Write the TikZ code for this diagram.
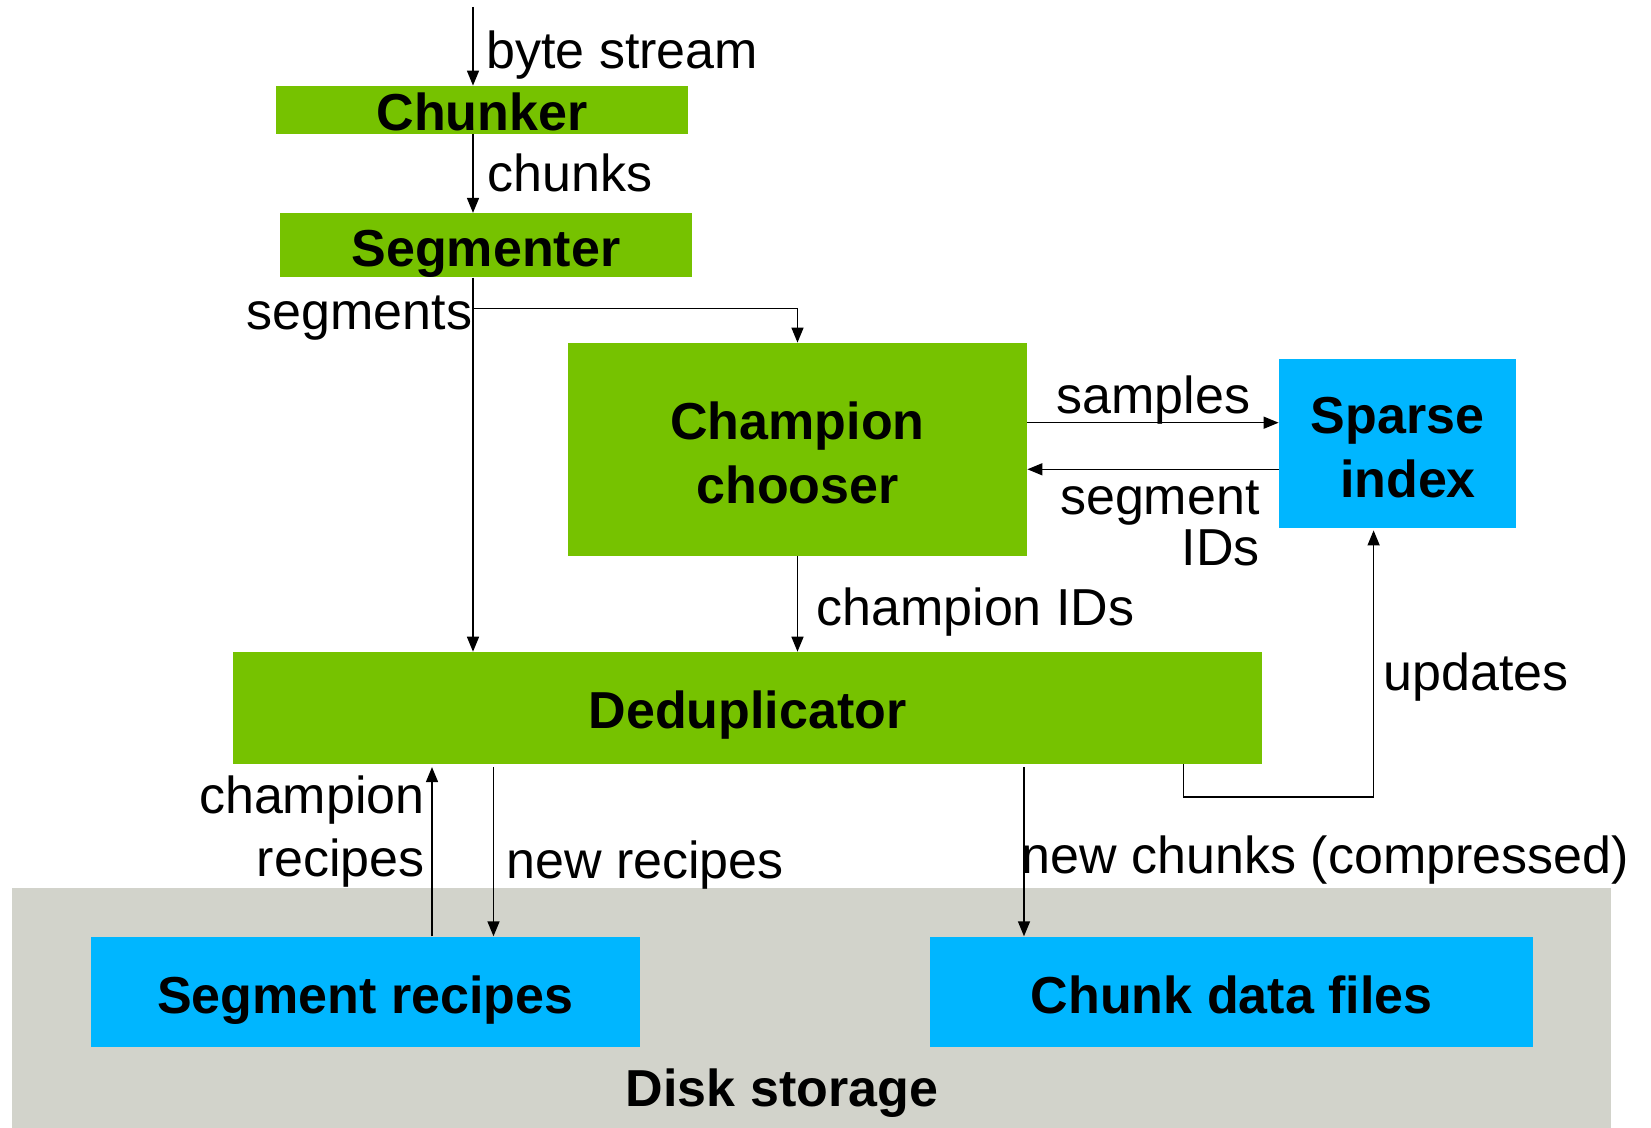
\documentclass[tikz,border=0pt]{standalone}
\usepackage{fontspec}
\setmainfont{Liberation Sans}
\usetikzlibrary{arrows.meta}
\definecolor{procgreen}{RGB}{118,194,0}
\definecolor{storeblue}{RGB}{0,182,255}
\definecolor{diskgray}{RGB}{210,211,203}
\begin{document}
\begin{tikzpicture}[x=0.5pt, y=-0.5pt,
  txt/.style={inner sep=0pt, font=\fontsize{26pt}{32pt}\selectfont},
  block/.style={inner sep=0pt, font=\fontsize{26pt}{32pt}\selectfont\bfseries},
  flat/.style={block, text height=22pt, text depth=1pt},
  arr/.style={-{Triangle[length=7.5pt,width=6pt]}, line width=0.75pt}]
\useasboundingbox (0,0) rectangle (1651,1128);

% storage area
\node[fill=diskgray, inner sep=0pt, minimum width=799.5pt, minimum height=120pt] (disk) at (811.5,1008) {};
\node[block, anchor=base] (disklabel) at (782,1106.7) {Disk storage};

% processing stages
\node[flat, fill=procgreen, minimum width=206pt, minimum height=24pt] (chunker) at (482,110) {Chunker};
\node[flat, fill=procgreen, minimum width=206pt, minimum height=32pt] (segmenter) at (486,245.3) {Segmenter};
\node[block, fill=procgreen, align=center, minimum width=229.5pt, minimum height=106.3pt] (champion) at (797.5,449.3) {\rule{0pt}{22.3pt}Champion\\chooser};
\node[block, fill=storeblue, align=center, minimum width=118.5pt, minimum height=84.5pt] (sparse) at (1397.5,443.5) {\rule{0pt}{22.3pt}Sparse\\\hspace*{0.4em}index};
\node[flat, fill=procgreen, minimum width=514.5pt, minimum height=55.8pt] (dedup) at (747.5,707.9) {Deduplicator};
\node[flat, fill=storeblue, minimum width=274.3pt, minimum height=55.3pt] (segrec) at (365.3,992) {Segment recipes};
\node[flat, fill=storeblue, minimum width=301.75pt, minimum height=55.3pt] (chunkfiles) at (1231.7,992) {Chunk data files};

% connector labels (multi-line ones are anchored on their last line)
\node[txt, anchor=base west] (lbyte) at (486,69) {byte stream};
\node[txt, anchor=base west] (lchunks) at (487,191.7) {chunks};
\node[txt, anchor=base east] (lsegs) at (472.5,330) {segments};
\node[txt, anchor=base west] (lsamples) at (1056,413.3) {samples};
\node[txt, anchor=base east, align=right, font=\fontsize{26pt}{25.5pt}\selectfont] (lsegids) at (1260,566) {segment\\IDs};
\node[txt, anchor=base west] (lchampids) at (816,625.7) {champion IDs};
\node[txt, anchor=base west] (lupdates) at (1383,690) {updates};
\node[txt, anchor=base east, align=right, font=\fontsize{26pt}{31.4pt}\selectfont] (lchamprec) at (425,876.7) {champion\\recipes};
\node[txt, anchor=base west] (lnewrec) at (506,878) {new recipes};
\node[txt, anchor=base west] (lnewchunks) at (1021.5,873.3) {new chunks (compressed)};

% connectors
\coordinate (src) at (473,7);
\coordinate (fork) at (473,308.3);
\coordinate (ysamp) at (0,422.7);
\coordinate (yids) at (0,469.3);
\coordinate (xcr) at (432,0);
\coordinate (xnr) at (493.5,0);
\coordinate (xnc) at (1024,0);
\coordinate (upA) at (1183.5,797);
\coordinate (upB) at (1373.6,797);

\draw[arr] (src) -- (src |- chunker.north);
\draw[arr] (chunker.south -| src) -- (segmenter.north -| src);
\draw[arr] (segmenter.south -| src) -- (dedup.north -| src);
\draw[arr] (fork) -- (fork -| champion.north) -- (champion.north);
\draw[arr] (champion.east |- ysamp) -- (sparse.west |- ysamp);
\draw[arr] (sparse.west |- yids) -- (champion.east |- yids);
\draw[arr] (champion.south) -- (champion.south |- dedup.north);
\draw[arr, shorten >=1.5pt] (segrec.north -| xcr) -- (dedup.south -| xcr);
\draw[arr, shorten <=1.5pt] (dedup.south -| xnr) -- (segrec.north -| xnr);
\draw[arr, shorten <=1.5pt] (dedup.south -| xnc) -- (chunkfiles.north -| xnc);
\draw[arr, shorten >=1pt] (dedup.south -| upA) -- (upA) -- (upB) -- (upB |- sparse.south);
\end{tikzpicture}
\end{document}
